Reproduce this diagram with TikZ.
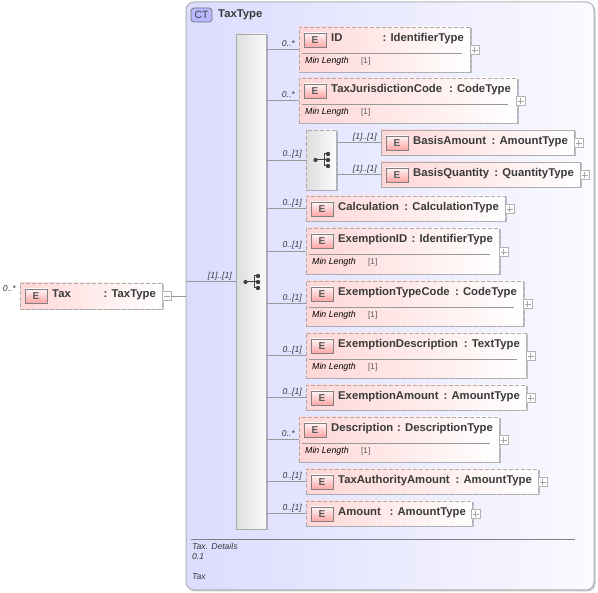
\documentclass[tikz,border=0pt]{standalone}
\usepackage{fontspec}
\setmainfont{Liberation Sans}
\usetikzlibrary{calc,shadows}
\definecolor{ink}{HTML}{3A3A3A}
\definecolor{edgegrey}{HTML}{ABABAB}
\definecolor{linegrey}{HTML}{999999}
\definecolor{elempink}{HTML}{FFD6D6}
\newcommand{\bigtxt}{\fontsize{11.3}{13}\selectfont\bfseries}
\newcommand{\smalltxt}{\fontsize{8.6}{10}\selectfont\itshape}
\tikzset{
  x=1pt,y=-1pt,
  softshadow/.style={drop shadow={shadow xshift=1.5pt,shadow yshift=-1.5pt,fill=black,opacity=.22}},
  elembox/.style={rectangle,anchor=north west,inner sep=0pt,outer sep=0pt,draw=edgegrey,line width=.9pt,left color=elempink,right color=white,softshadow},
  optional/.style={dash pattern=on 4pt off 2pt},
  ebadge/.style={rectangle,anchor=north west,inner sep=0pt,outer sep=0pt,minimum width=22pt,minimum height=14pt,draw=black!50,line width=.7pt,top color=red!4,bottom color=red!35,text=black!65,font=\fontsize{10}{12}\selectfont\bfseries},
  nametxt/.style={anchor=base west,inner sep=0pt,text=ink,font=\bigtxt},
  typetxt/.style={anchor=base east,inner sep=0pt,text=ink,font=\bigtxt},
  smalllabel/.style={anchor=base west,inner sep=0pt,text=ink,font=\smalltxt},
  cardtxt/.style={anchor=base east,inner sep=0pt,text=ink,font=\fontsize{8.6}{10}\selectfont\itshape},
  toggle/.style={rectangle,anchor=west,inner sep=0pt,outer sep=0pt,minimum size=9pt,draw=black!30,line width=.6pt,fill=white},
  conn/.style={draw=linegrey,line width=.7pt},
  compositor/.style={rectangle,anchor=north west,inner sep=0pt,outer sep=0pt,draw=edgegrey,line width=.9pt,left color=black!13,right color=black!2,softshadow},
}
% #1 id, #2 x1, #3 y1, #4 x2, #5 y2, #6 name, #7 type, #8 extra style
\newcommand{\elem}[8]{%
  \pgfmathsetmacro{\ew}{#4-#2}\pgfmathsetmacro{\eh}{#5-#3}%
  \node[elembox,#8,minimum width=\ew pt,minimum height=\eh pt] (#1) at (#2,#3) {};
  \node[ebadge] (#1badge) at ({#2+5},{#3+6}) {E};
  \node[nametxt] (#1name) at ({#2+32},{#3+15}) {#6};
  \node[typetxt] (#1type) at ({#4-6},{#3+15}) {#7};
}
% #1 id, #2 x1, #3 y1, #4 x2 : min-length facet
\newcommand{\minlen}[4]{%
  \coordinate (#1sa) at ({#2+3},{#3+26});
  \coordinate (#1sb) at ({#4-9},{#3+26});
  \draw[conn] (#1sa) -- (#1sb);
  \node[smalllabel,font=\fontsize{8.8}{10}\selectfont\itshape,text=black] (#1ml) at ({#2+6},{#3+37}) {Min Length};
  \node[smalllabel,font=\fontsize{8.2}{10}\selectfont,text=black!65] (#1mv) at ({#2+62},{#3+37}) {[1]};
}
% #1 id, #2 x2, #3 y centre
\newcommand{\plusbox}[3]{%
  \node[toggle] (#1tg) at ({#2},{#3}) {};
  \draw[draw=black!35,line width=.5pt] ($(#1tg.center)+(-3,0)$) -- ($(#1tg.center)+(3,0)$) ($(#1tg.center)+(0,-3)$) -- ($(#1tg.center)+(0,3)$);
}
% #1 centre x, #2 centre y : compositor glyph
\newcommand{\glyph}[2]{%
  \fill[black!75] ({#1-5.5},#2) circle (2.1);
  \draw[black!75,line width=1pt] ({#1-5.5},#2) -- ({#1+7},#2) ({#1+3},{#2-6}) -- ({#1+3},{#2+6}) -- ({#1+7},{#2+6}) ({#1+3},{#2-6}) -- ({#1+7},{#2-6});
  \foreach \dd in {-6,0,6} \fill[black!75] ({#1+7},{#2+\dd}) circle (2.2);
}
\begin{document}
\begin{tikzpicture}
\useasboundingbox (0,0) rectangle (598,593);
\fill[white] (0,0) rectangle (598,593);

% complex type frame
\node[rectangle,anchor=north west,inner sep=0pt,outer sep=0pt,minimum width=408pt,minimum height=588pt,rounded corners=8pt,draw=black!30,line width=1pt,left color=blue!14,right color=blue!2,softshadow] (ct) at (186,2) {};
\node[rectangle,anchor=north west,inner sep=0pt,outer sep=0pt,minimum width=21pt,minimum height=14pt,rounded corners=3pt,draw=black!55,line width=.7pt,fill=blue!28,text=black!75,font=\fontsize{10.5}{12}\selectfont] (ctbadge) at (191,8) {CT};
\node[nametxt] (cttitle) at (218,18) {TaxType};

% sequence
\node[compositor,minimum width=30pt,minimum height=495pt] (seq) at (236,34) {};
\glyph{251}{282}

% root element
\elem{tax}{20}{283}{162}{309}{Tax}{: TaxType}{optional}
\node[toggle] (taxtg) at (162,296) {};
\draw[draw=black!35,line width=.5pt] ($(taxtg.center)+(-3,0)$) -- ($(taxtg.center)+(3,0)$);
\coordinate (ctin) at (ct.west |- taxtg);
\draw[conn] (taxtg.east) -- (ctin);
\coordinate (ctseq) at (ct.west |- seq.west);
\draw[conn] (ctseq) -- (seq.west);
\node[cardtxt] (taxcard) at (16,292) {0..*};
\node[cardtxt] (seqcard) at (232,279) {[1]..[1]};

% children
\elem{a}{299}{27}{470}{72}{ID}{: IdentifierType}{optional}
\minlen{a}{299}{27}{471}\plusbox{a}{470}{50}
\elem{b}{299}{78}{517}{123}{TaxJurisdictionCode}{: CodeType}{optional}
\minlen{b}{299}{78}{517}\plusbox{b}{516}{101}

\node[compositor,optional,minimum width=30pt,minimum height=60pt] (grp) at (306,130) {};
\glyph{321}{160}
\elem{c}{381}{130}{574}{155}{BasisAmount}{: AmountType}{}
\plusbox{c}{574}{143}
\elem{d}{381}{162}{580}{187}{BasisQuantity}{: QuantityType}{}
\plusbox{d}{580}{175}

\elem{e}{306}{196}{505}{221}{Calculation}{: CalculationType}{optional}
\plusbox{e}{505}{209}
\elem{f}{306}{228}{499}{274}{ExemptionID}{: IdentifierType}{optional}
\minlen{f}{306}{228}{499}\plusbox{f}{499}{252}
\elem{g}{306}{281}{523}{326}{ExemptionTypeCode}{: CodeType}{optional}
\minlen{g}{306}{281}{523}\plusbox{g}{523}{304}
\elem{h}{306}{333}{526}{378}{ExemptionDescription}{: TextType}{optional}
\minlen{h}{306}{333}{526}\plusbox{h}{526}{356}
\elem{i}{306}{385}{526}{410}{ExemptionAmount}{: AmountType}{optional}
\plusbox{i}{526}{398}
\elem{j}{299}{417}{499}{462}{Description}{: DescriptionType}{optional}
\minlen{j}{299}{417}{499}\plusbox{j}{499}{440}
\elem{k}{306}{469}{538}{494}{TaxAuthorityAmount}{: AmountType}{optional}
\plusbox{k}{538}{482}
\elem{l}{306}{501}{472}{526}{Amount}{: AmountType}{optional}
\plusbox{l}{471}{514}

% connectors with cardinalities
\foreach \nn/\cc/\xx in {a/0..*/295,b/0..*/295,grp/0..[1]/302,e/0..[1]/302,f/0..[1]/302,g/0..[1]/302,h/0..[1]/302,i/0..[1]/302,j/0..*/295,k/0..[1]/302,l/0..[1]/302}{
  \coordinate (\nn from) at (seq.east |- \nn.west);
  \draw[conn] (\nn from) -- (\nn.west);
  \path (\nn.west) ++(0,-3) coordinate (\nn lab);
  \node[cardtxt] (\nn card) at (\xx,0 |- \nn lab) {\cc};
}
\foreach \nn in {c,d}{
  \coordinate (\nn from) at (grp.east |- \nn.west);
  \draw[conn] (\nn from) -- (\nn.west);
  \path (\nn.west) ++(-4,-3) coordinate (\nn lab);
  \node[cardtxt] (\nn card) at (\nn lab) {[1]..[1]};
}

% annotation
\coordinate (sepa) at (191,539);
\coordinate (sepb) at (575,539);
\draw[draw=black!50,line width=.7pt] (sepa) -- (sepb);
\node[smalllabel] (doc1) at (192,550) {Tax. Details};
\node[smalllabel] (doc2) at (192,560) {0.1};
\node[smalllabel] (doc3) at (192,580) {Tax};
\end{tikzpicture}
\end{document}
